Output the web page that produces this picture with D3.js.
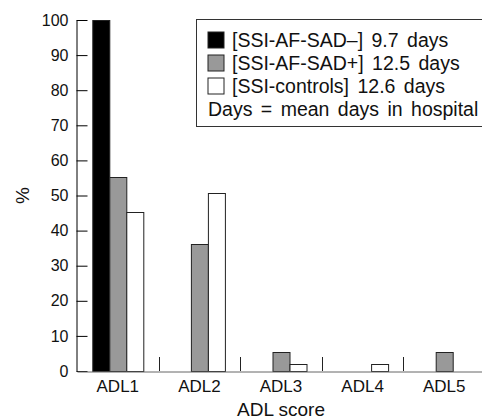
<!DOCTYPE html>
<html lang="en">
<head>
    <meta charset="UTF-8">
    <title>ADL score by group</title>
    <script src="https://d3js.org/d3.v7.min.js"></script>
    <style>
        body {
            margin: 0;
            background: #fff;
            font-family: 'Liberation Sans', Arial, sans-serif;
        }
        .bar {
            stroke: #222;
            stroke-width: 1;
        }
    </style>
</head>
<body>
    <div id="chart"></div>

    <script>
        // --- Data ---
        const categories = ["ADL1", "ADL2", "ADL3", "ADL4", "ADL5"];
        const seriesKeys = ["sadMinus", "sadPlus", "controls"];
        const seriesLabels = [
            "[SSI-AF-SAD\u2013] 9.7 days",
            "[SSI-AF-SAD+] 12.5 days",
            "[SSI-controls] 12.6 days"
        ];
        const seriesColors = ["#000000", "#999999", "#ffffff"];
        const sadMinusValues = [100, 0, 0, 0, 0];
        const sadPlusValues = [55.4, 36.3, 5.3, 0, 5.3];
        const controlsValues = [45.2, 50.6, 2.1, 2.1, 0];
        const yTicks = [0, 10, 20, 30, 40, 50, 60, 70, 80, 90, 100];
        const legendNote = "Days = mean days in hospital";

        const seriesValues = [sadMinusValues, sadPlusValues, controlsValues];
        const rows = categories.map((c, i) => ({
            category: c,
            values: seriesKeys.map((k, s) => ({ key: k, value: seriesValues[s][i], color: seriesColors[s] }))
        }));

        // --- Layout ---
        const width = 482, height = 420;
        const plot = { left: 77, right: 485, top: 20, bottom: 371 };

        const svg = d3.select("#chart").append("svg")
            .attr("width", width)
            .attr("height", height);

        const x0 = d3.scaleBand()
            .domain(categories)
            .range([plot.left, plot.right])
            .padding(0);

        const groupWidth = 51;
        const x1 = d3.scaleBand()
            .domain(seriesKeys)
            .range([(x0.bandwidth() - groupWidth) / 2, (x0.bandwidth() + groupWidth) / 2])
            .padding(0);

        const y = d3.scaleLinear()
            .domain([0, 100])
            .range([plot.bottom, plot.top]);

        // --- Bars ---
        const groups = svg.append("g")
            .selectAll("g")
            .data(rows)
            .join("g")
            .attr("transform", d => `translate(${x0(d.category)},0)`);

        groups.selectAll("rect")
            .data(d => d.values.filter(v => v.value > 0))
            .join("rect")
            .attr("class", "bar")
            .attr("x", d => x1(d.key) + 0.5)
            .attr("y", d => Math.round(y(d.value)) + 0.5)
            .attr("width", x1.bandwidth())
            .attr("height", d => plot.bottom - Math.round(y(d.value)))
            .attr("fill", d => d.color);

        // --- Y axis (inward ticks) ---
        const yAxis = svg.append("g")
            .attr("transform", `translate(${plot.left - 0.5},0)`)
            .call(d3.axisLeft(y).tickValues(yTicks).tickSize(-11).tickPadding(8).tickSizeOuter(0));
        yAxis.select(".domain").attr("stroke", "#000");
        yAxis.selectAll(".tick line").attr("stroke", "#000");
        yAxis.selectAll(".tick text")
            .attr("font-family", "'Liberation Sans', Arial, sans-serif")
            .attr("font-size", 16)
            .attr("fill", "#111");

        // --- X axis: baseline, category separators and labels ---
        const xAxis = svg.append("g")
            .attr("transform", `translate(0,${plot.bottom + 0.5})`)
            .call(d3.axisBottom(x0).tickSize(0).tickPadding(8.5).tickSizeOuter(0));
        xAxis.select(".domain").attr("stroke", "#666");
        xAxis.selectAll(".tick text")
            .attr("font-family", "'Liberation Sans', Arial, sans-serif")
            .attr("font-size", 17)
            .attr("fill", "#111");

        svg.append("g")
            .selectAll("line")
            .data(categories.slice(1))
            .join("line")
            .attr("x1", d => Math.round(x0(d)) + 0.5)
            .attr("x2", d => Math.round(x0(d)) + 0.5)
            .attr("y1", plot.bottom - 14)
            .attr("y2", plot.bottom)
            .attr("stroke", "#222");

        // --- Axis titles ---
        svg.append("text")
            .attr("x", (plot.left + plot.right) / 2)
            .attr("y", 416)
            .attr("text-anchor", "middle")
            .attr("font-size", 19)
            .attr("fill", "#111")
            .text("ADL score");

        svg.append("text")
            .attr("transform", `translate(29,${(plot.top + plot.bottom) / 2}) rotate(-90)`)
            .attr("text-anchor", "middle")
            .attr("font-size", 19)
            .attr("fill", "#111")
            .text("%");

        // --- Legend ---
        const legend = svg.append("g").attr("transform", "translate(196.5,19.5)");
        legend.append("rect")
            .attr("width", 300)
            .attr("height", 107)
            .attr("fill", "#fff")
            .attr("stroke", "#333");

        const items = legend.selectAll("g.item")
            .data(seriesLabels)
            .join("g")
            .attr("class", "item")
            .attr("transform", (d, i) => `translate(11.5,${12.5 + i * 23})`);

        items.append("rect")
            .attr("width", 16)
            .attr("height", 16)
            .attr("fill", (d, i) => seriesColors[i])
            .attr("stroke", "#222");

        items.append("text")
            .attr("x", 24)
            .attr("y", 14.5)
            .attr("font-size", 19.5)
            .attr("word-spacing", 3)
            .attr("fill", "#111")
            .text(d => d);

        legend.append("text")
            .attr("x", 11.5)
            .attr("y", 12.5 + 3 * 23 + 14.5)
            .attr("font-size", 19.5)
            .attr("word-spacing", 3)
            .attr("fill", "#111")
            .text(legendNote);
    </script>
</body>
</html>
